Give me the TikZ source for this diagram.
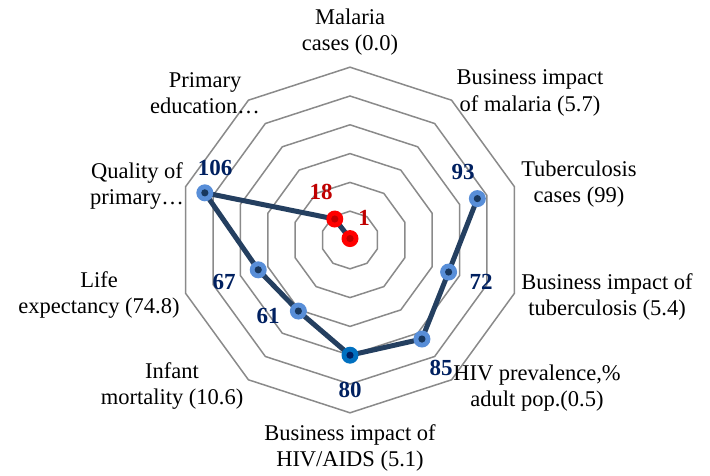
\documentclass[tikz,border=0pt]{standalone}
\usepackage{fontspec}
\setmainfont{Liberation Serif}
\definecolor{ringgray}{RGB}{138,138,138}
\definecolor{seriescol}{RGB}{36,63,96}
\definecolor{ptblue}{RGB}{88,142,216}
\definecolor{ptnavy}{RGB}{23,55,94}
\definecolor{ptmid}{RGB}{0,112,192}
\definecolor{lblnavy}{RGB}{0,32,96}
\definecolor{lblred}{RGB}{192,0,0}
\definecolor{ptred}{RGB}{255,0,0}
\begin{document}
\begin{tikzpicture}[x=1pt,y=1pt,
  ringline/.style={draw=ringgray,line width=1.5pt,line join=miter},
  series/.style={draw=seriescol,line width=5pt,line join=round,line cap=round},
  marker/.style={circle,inner sep=0pt,minimum size=17pt},
  bluept/.style={marker,fill=ptblue,path picture={\fill[ptnavy] (path picture bounding box.center) circle (3.6);}},
  midpt/.style={marker,fill=ptmid,path picture={\fill[lblnavy] (path picture bounding box.center) circle (3.6);}},
  redpt/.style={marker,fill=ptred,path picture={\fill[lblred] (path picture bounding box.center) circle (3.6);}},
  axislbl/.style={align=center,font=\fontsize{22.5}{26.5}\selectfont,text=black,inner sep=0pt},
  vallbl/.style={font=\fontsize{23}{26}\selectfont\bfseries,text=lblnavy,inner sep=0pt},
  redlbl/.style={font=\fontsize{23}{26}\selectfont\bfseries,text=lblred,inner sep=0pt}]
\useasboundingbox (0,0) rectangle (710,475);
\begin{scope}[shift={(350,235)}]
  \foreach \k in {1,...,6}{
    \draw[ringline] (90:{28.8*\k}) \foreach \a in {1,...,9}{ -- ({90-36*\a}:{28.8*\k})} -- cycle;
  }
  \coordinate (p1) at (90:1.44);
  \coordinate (p3) at (18:133.92);
  \coordinate (p4) at (-18:103.68);
  \coordinate (p5) at (-54:122.4);
  \coordinate (p6) at (-90:115.2);
  \coordinate (p7) at (-126:87.84);
  \coordinate (p8) at (-162:96.48);
  \coordinate (p9) at (162:152.64);
  \coordinate (p10) at (126:25.92);
  \draw[series] (p3) -- (p4) -- (p5) -- (p6) -- (p7) -- (p8) -- (p9) -- (p10) -- (p1);
  \node[bluept] (m3) at (p3) {};
  \node[bluept] (m4) at (p4) {};
  \node[bluept] (m5) at (p5) {};
  \node[midpt] (m6) at (p6) {};
  \node[bluept] (m7) at (p7) {};
  \node[bluept] (m8) at (p8) {};
  \node[bluept] (m9) at (p9) {};
  \node[redpt] (m10) at (p10) {};
  \node[redpt] (m1) at (p1) {};
\end{scope}
% axis labels
\node[axislbl] (a1) at (350,443) {Malaria\\cases (0.0)};
\node[axislbl] (a2) at (530,382) {Business impact\\of malaria (5.7)};
\node[axislbl] (a3) at (579,291) {Tuberculosis\\cases (99)};
\node[axislbl] (a4) at (607,178) {Business impact of\\tuberculosis (5.4)};
\node[axislbl] (a5) at (537,87) {HIV prevalence,\%\\adult pop.(0.5)};
\node[axislbl] (a6) at (350,27) {Business impact of\\HIV/AIDS (5.1)};
\node[axislbl] (a7) at (172,89) {Infant\\mortality (10.6)};
\node[axislbl] (a8) at (99,180) {Life\\expectancy (74.8)};
\node[axislbl] (a9) at (137,289) {Quality of\\primary…};
\node[axislbl] (a10) at (205,382) {Primary\\education…};
% value labels
\node[vallbl] (v9) at (215,307) {106};
\node[vallbl] (v3) at (463,303) {93};
\node[redlbl] (v10) at (321,283) {18};
\node[redlbl] (v1) at (364,257) {1};
\node[vallbl] (v4) at (481,193) {72};
\node[vallbl] (v8) at (224,193) {67};
\node[vallbl] (v7) at (268,159) {61};
\node[vallbl] (v5) at (441,107) {85};
\node[vallbl] (v6) at (350,85) {80};
\end{tikzpicture}
\end{document}
